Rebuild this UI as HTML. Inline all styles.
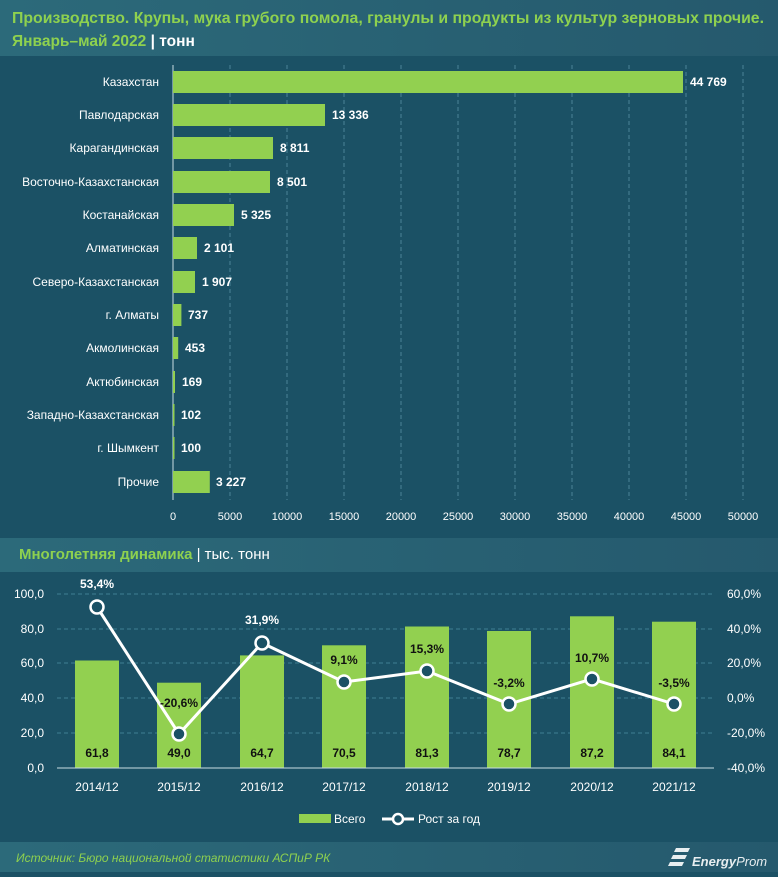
<!DOCTYPE html>
<html><head><meta charset="utf-8"><style>
body{margin:0;width:778px;height:872px;overflow:hidden;font-family:"Liberation Sans",sans-serif;background:#1b5165}
</style></head><body>
<svg width="778" height="872" xmlns="http://www.w3.org/2000/svg" font-family="Liberation Sans, sans-serif">
<defs><linearGradient id="hg" x1="0" x2="1"><stop offset="0" stop-color="#2c6a7a"/><stop offset="1" stop-color="#25596d"/></linearGradient></defs>
<rect width="778" height="872" fill="#1b5165"/>
<rect width="778" height="56" fill="url(#hg)"/>
<text x="12" y="23" font-size="15.5" fill="#8ed14f" font-weight="bold" textLength="752" lengthAdjust="spacingAndGlyphs">Производство. Крупы, мука грубого помола, гранулы и продукты из культур зерновых прочие.</text>
<text x="12" y="46" font-size="15.5" fill="#8ed14f" font-weight="bold">Январь–май 2022 <tspan fill="#fff">| тонн</tspan></text>
<g stroke="#4b8396" stroke-dasharray="4,3" stroke-width="1">
<line x1="230" y1="65" x2="230" y2="500"/><line x1="287" y1="65" x2="287" y2="500"/><line x1="344" y1="65" x2="344" y2="500"/><line x1="401" y1="65" x2="401" y2="500"/><line x1="458" y1="65" x2="458" y2="500"/><line x1="515" y1="65" x2="515" y2="500"/><line x1="572" y1="65" x2="572" y2="500"/><line x1="629" y1="65" x2="629" y2="500"/><line x1="686" y1="65" x2="686" y2="500"/><line x1="743" y1="65" x2="743" y2="500"/>
</g>
<line x1="173" y1="65" x2="173" y2="500" stroke="#c8dde3" stroke-width="1"/>
<g font-size="12" fill="#fff" text-anchor="end">
<text x="159" y="86">Казахстан</text><text x="159" y="119">Павлодарская</text><text x="159" y="152">Карагандинская</text><text x="159" y="186">Восточно-Казахстанская</text><text x="159" y="219">Костанайская</text><text x="159" y="252">Алматинская</text><text x="159" y="286">Северо-Казахстанская</text><text x="159" y="319">г. Алматы</text><text x="159" y="352">Акмолинская</text><text x="159" y="386">Актюбинская</text><text x="159" y="419">Западно-Казахстанская</text><text x="159" y="452">г. Шымкент</text><text x="159" y="486">Прочие</text>
</g>
<g fill="#92d050">
<rect x="173" y="71" width="510" height="22"/><rect x="173" y="104" width="152" height="22"/><rect x="173" y="137" width="100" height="22"/><rect x="173" y="171" width="97" height="22"/><rect x="173" y="204" width="61" height="22"/><rect x="173" y="237" width="24" height="22"/><rect x="173" y="271" width="22" height="22"/><rect x="173" y="304" width="8.4" height="22"/><rect x="173" y="337" width="5.2" height="22"/><rect x="173" y="371" width="2" height="22"/><rect x="173" y="404" width="1.5" height="22"/><rect x="173" y="437" width="1.5" height="22"/><rect x="173" y="471" width="36.8" height="22"/>
</g>
<g font-size="12" fill="#fff" font-weight="bold">
<text x="690" y="86">44 769</text><text x="332" y="119">13 336</text><text x="280" y="152">8 811</text><text x="277" y="186">8 501</text><text x="241" y="219">5 325</text><text x="204" y="252">2 101</text><text x="202" y="286">1 907</text><text x="188" y="319">737</text><text x="185" y="352">453</text><text x="182" y="386">169</text><text x="181" y="419">102</text><text x="181" y="452">100</text><text x="216" y="486">3 227</text>
</g>
<g font-size="11" fill="#fff" text-anchor="middle">
<text x="173" y="520">0</text><text x="230" y="520">5000</text><text x="287" y="520">10000</text><text x="344" y="520">15000</text><text x="401" y="520">20000</text><text x="458" y="520">25000</text><text x="515" y="520">30000</text><text x="572" y="520">35000</text><text x="629" y="520">40000</text><text x="686" y="520">45000</text><text x="743" y="520">50000</text>
</g>
<rect x="0" y="538" width="778" height="34" fill="url(#hg)"/>
<text x="19" y="559" font-size="15" fill="#8ed14f" font-weight="bold">Многолетняя динамика <tspan fill="#fff" font-weight="normal">| тыс. тонн</tspan></text>
<g stroke="#3f7f93" stroke-dasharray="4,3">
<line x1="57" y1="594" x2="714" y2="594"/><line x1="57" y1="629" x2="714" y2="629"/><line x1="57" y1="663" x2="714" y2="663"/><line x1="57" y1="698" x2="714" y2="698"/><line x1="57" y1="733" x2="714" y2="733"/>
</g>
<g font-size="12" fill="#fff" text-anchor="end">
<text x="44" y="598">100,0</text><text x="44" y="633">80,0</text><text x="44" y="667">60,0</text><text x="44" y="702">40,0</text><text x="44" y="737">20,0</text><text x="44" y="772">0,0</text>
</g>
<g font-size="12" fill="#fff">
<text x="727" y="598">60,0%</text><text x="727" y="633">40,0%</text><text x="727" y="667">20,0%</text><text x="727" y="702">0,0%</text><text x="727" y="737">-20,0%</text><text x="727" y="772">-40,0%</text>
</g>
<g fill="#92d050">
<rect x="75" y="660.5" width="44" height="107.5"/><rect x="157" y="682.7" width="44" height="85.3"/><rect x="240" y="655.4" width="44" height="112.6"/><rect x="322" y="645.3" width="44" height="122.7"/><rect x="405" y="626.5" width="44" height="141.5"/><rect x="487" y="631" width="44" height="137"/><rect x="570" y="616.3" width="44" height="151.7"/><rect x="652" y="621.7" width="44" height="146.3"/>
</g>
<line x1="57" y1="768" x2="714" y2="768" stroke="#c8dde3"/>
<g font-size="12" fill="#111" font-weight="bold" text-anchor="middle">
<text x="97" y="757">61,8</text><text x="179" y="757">49,0</text><text x="262" y="757">64,7</text><text x="344" y="757">70,5</text><text x="427" y="757">81,3</text><text x="509" y="757">78,7</text><text x="592" y="757">87,2</text><text x="674" y="757">84,1</text>
</g>
<polyline points="97,607 179,734 262,643 344,682 427,671 509,704 592,679 674,704" fill="none" stroke="#fff" stroke-width="3"/>
<g fill="#1b5165" stroke="#fff" stroke-width="2.5">
<circle cx="97" cy="607" r="6.5"/><circle cx="179" cy="734" r="6.5"/><circle cx="262" cy="643" r="6.5"/><circle cx="344" cy="682" r="6.5"/><circle cx="427" cy="671" r="6.5"/><circle cx="509" cy="704" r="6.5"/><circle cx="592" cy="679" r="6.5"/><circle cx="674" cy="704" r="6.5"/>
</g>
<g font-size="12" font-weight="bold" text-anchor="middle">
<text x="97" y="588" fill="#fff">53,4%</text><text x="179" y="707" fill="#111">-20,6%</text><text x="262" y="624" fill="#fff">31,9%</text><text x="344" y="664" fill="#111">9,1%</text><text x="427" y="653" fill="#111">15,3%</text><text x="509" y="687" fill="#111">-3,2%</text><text x="592" y="662" fill="#111">10,7%</text><text x="674" y="687" fill="#111">-3,5%</text>
</g>
<g font-size="12" fill="#fff" text-anchor="middle">
<text x="97" y="791">2014/12</text><text x="179" y="791">2015/12</text><text x="262" y="791">2016/12</text><text x="344" y="791">2017/12</text><text x="427" y="791">2018/12</text><text x="509" y="791">2019/12</text><text x="592" y="791">2020/12</text><text x="674" y="791">2021/12</text>
</g>
<rect x="299" y="814" width="32" height="9" fill="#92d050"/>
<text x="334" y="823" font-size="12" fill="#fff">Всего</text>
<line x1="382" y1="819" x2="414" y2="819" stroke="#fff" stroke-width="3"/>
<circle cx="398" cy="819" r="5" fill="#1b5165" stroke="#fff" stroke-width="2.5"/>
<text x="418" y="823" font-size="12" fill="#fff">Рост за год</text>
<rect x="0" y="842" width="778" height="30" fill="url(#hg)"/>
<text x="16" y="862" font-size="12" fill="#8ed14f" font-style="italic">Источник: Бюро национальной статистики АСПиР РК</text>
<g fill="#e8eef0"><path d="M676,848 h14 l-2,4 h-14z M673,855 h14 l-2,4 h-14z M670,862 h14 l-2,4 h-14z"/></g>
<text x="692" y="866" font-size="13" fill="#e8eef0" font-style="italic"><tspan font-weight="bold">Energy</tspan>Prom</text>
</svg>
</body></html>
